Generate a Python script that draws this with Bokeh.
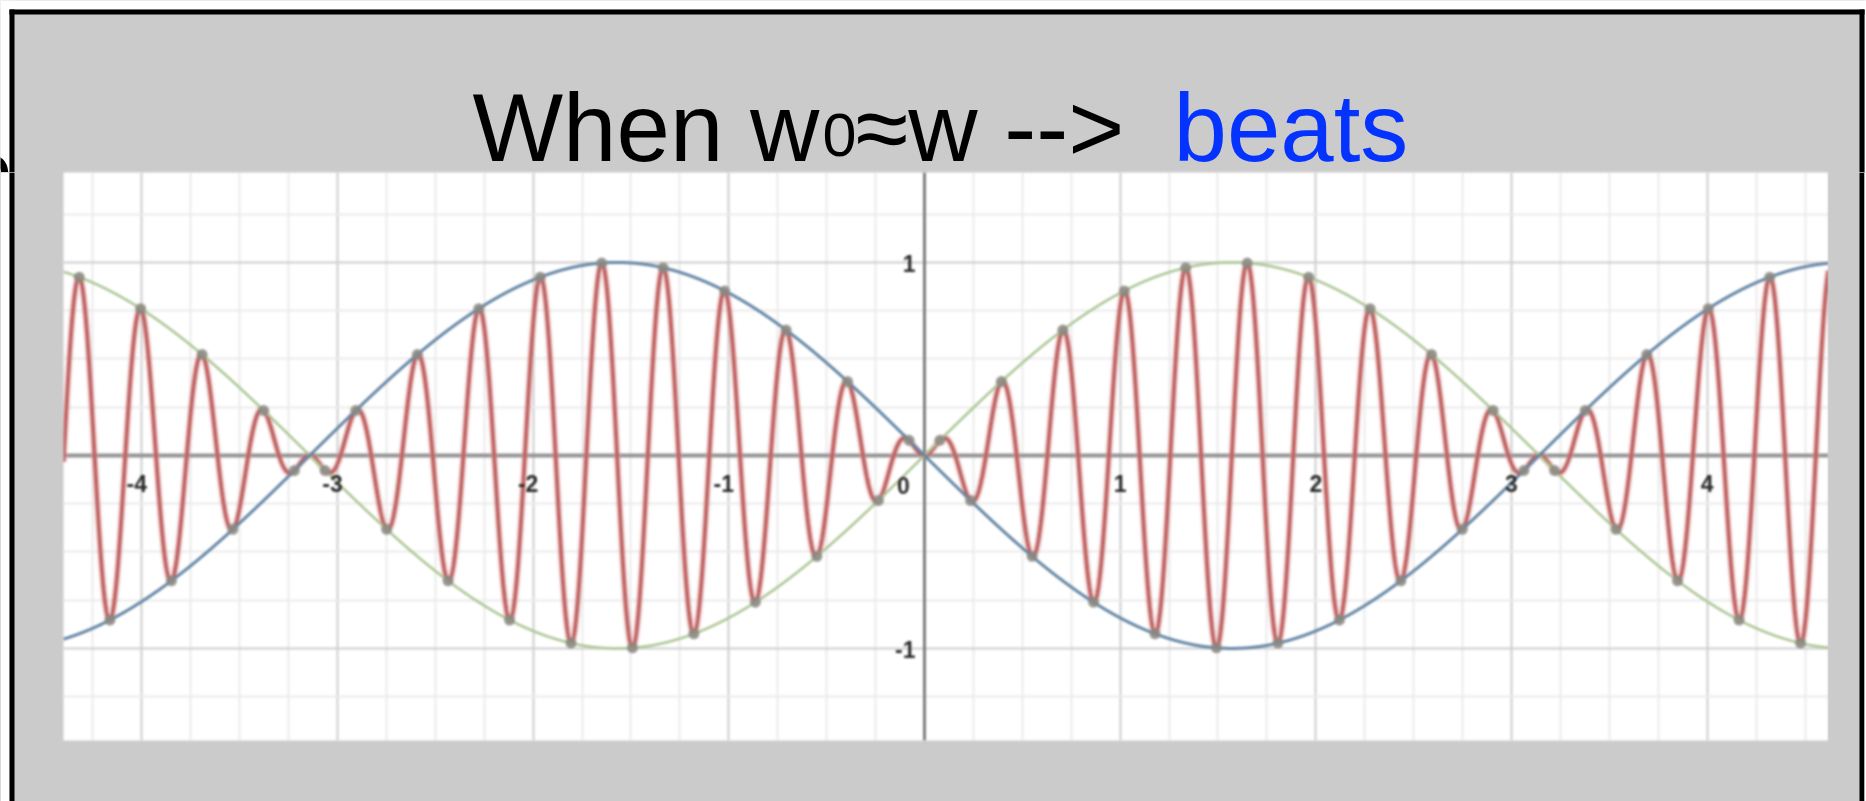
import numpy as np
from bokeh.plotting import figure
from bokeh.layouts import column, row
from bokeh.models import Range1d, Span, Grid, FixedTicker
from bokeh.core.properties import value
from bokeh.embed import file_html
from bokeh.resources import INLINE

# ---- content -------------------------------------------------------------
# Beating: a fast carrier sin(20x) modulated by the slow envelope sin(x)
CARRIER_FREQ = 20
ENVELOPE_FREQ = 1

X_TICKS = [-4, -3, -2, -1, 1, 2, 3, 4]
X_TICK_LABELS = ["-4", "-3", "-2", "-1", "1", "2", "3", "4"]
Y_TICKS = [-1, 1]
Y_TICK_LABELS = ["-1", "1"]
ORIGIN_LABEL = "0"

X_VIEW = (-4.40, 4.62)
Y_VIEW = (-1.477, 1.466)
GRID_STEP = 0.25

# title pieces: (text, left x, baseline y, size, colour)
TITLE_PIECES = [
    ("When w", 472, 127, 96, "black"),
    ("0", 822, 134, 61, "black"),
    ("\u2248w -->", 855, 127, 96, "black"),
    ("beats", 1173, 127, 96, "#0433ff"),
]
EDGE_GLYPH = "b"

# ---- page geometry (pixels) ----------------------------------------------
W, H = 1866, 801
FL, FR, FT, FB = 63, 1828, 172, 740   # white plotting area
RULE_L, RULE_R, RULE_T, RULE_W = 9, 1859, 9, 5

PANEL_GRAY = "#cbcbcb"
RED = "#c06464"
BLUE = "#6486a5"
GREEN = "#abc593"
DOT = "#8a8983"
FONT = "Liberation Sans"
TEXT_FONT = value(FONT)


def pixel_figure(width, height):
    """A bare figure whose data space is its own pixel grid (y down)."""
    f = figure(width=width, height=height,
               x_range=Range1d(0, width), y_range=Range1d(height, 0),
               x_axis_location=None, y_axis_location=None,
               toolbar_location=None, output_backend="svg",
               min_border=0, min_border_left=0, min_border_right=0,
               min_border_top=0, min_border_bottom=0,
               frame_align=False)
    f.background_fill_color = PANEL_GRAY
    f.border_fill_color = PANEL_GRAY
    f.outline_line_color = None
    f.grid.visible = False
    return f


# ---- title band --------------------------------------------------------------
top = pixel_figure(W, FT)
top.quad(left=[0, 0, RULE_R + RULE_W], right=[RULE_L, W, W],
         top=[0, 0, 0], bottom=[FT, RULE_T, FT],
         fill_color="white", line_color=None)
top.quad(left=[RULE_L, RULE_L, RULE_R], right=[RULE_L + RULE_W, RULE_R + RULE_W, RULE_R + RULE_W],
         top=[RULE_T, RULE_T, RULE_T], bottom=[FT, RULE_T + RULE_W, FT],
         fill_color="black", line_color=None)
top.text(x=[-33], y=[171], text=[EDGE_GLYPH], text_font=TEXT_FONT,
         text_font_size="80px", text_color="black",
         text_align="left", text_baseline="alphabetic")
for txt, tx, ty, size, colour in TITLE_PIECES:
    top.text(x=[tx], y=[ty], text=[txt], text_font=TEXT_FONT,
             text_font_size=f"{size}px", text_color=colour,
             text_align="left", text_baseline="alphabetic")

# ---- side strips of the slide frame -----------------------------------------
lower_h = H - FT
left = pixel_figure(FL, lower_h)
left.quad(left=[0], right=[RULE_L], top=[0], bottom=[lower_h], fill_color="white", line_color=None)
left.quad(left=[RULE_L], right=[RULE_L + RULE_W], top=[0], bottom=[lower_h], fill_color="black", line_color=None)

right_w = W - FR
right = pixel_figure(right_w, lower_h)
rr = RULE_R - FR
right.quad(left=[rr], right=[rr + RULE_W], top=[0], bottom=[lower_h], fill_color="black", line_color=None)
right.quad(left=[rr + RULE_W], right=[right_w], top=[0], bottom=[lower_h], fill_color="white", line_color=None)

# ---- the graph ----------------------------------------------------------------
p = figure(
    width=FR - FL, height=lower_h,
    x_range=Range1d(*X_VIEW), y_range=Range1d(*Y_VIEW),
    x_axis_location=None, y_axis_location=None,
    toolbar_location=None, output_backend="svg",
    min_border_left=0, min_border_right=0,
    min_border_top=0, min_border_bottom=H - FB,
    frame_align=False,
    styles={"filter": "blur(1.2px)"},
)
p.background_fill_color = "white"
p.border_fill_color = PANEL_GRAY
p.outline_line_color = None

x_minor = [float(v) for v in np.arange(-4.5, 4.75, GRID_STEP) if abs(v - round(v)) > 1e-9]
y_minor = [float(v) for v in np.arange(-1.5, 1.75, GRID_STEP) if abs(v - round(v)) > 1e-9]

gx = Grid(dimension=0, ticker=FixedTicker(ticks=list(range(-5, 6)), minor_ticks=x_minor))
gy = Grid(dimension=1, ticker=FixedTicker(ticks=[-1, 0, 1], minor_ticks=y_minor))
for g in (gx, gy):
    g.grid_line_color = "#cdcdcd"
    g.grid_line_width = 2
    g.minor_grid_line_color = "#ebebeb"
    g.minor_grid_line_width = 2
    p.add_layout(g)

# axes through the origin
p.add_layout(Span(location=0, dimension="width", line_color="#949494", line_width=4, level="underlay"))
p.add_layout(Span(location=0, dimension="height", line_color="#6a6a6a", line_width=2.5, level="underlay"))

x = np.linspace(X_VIEW[0], X_VIEW[1], 8000)
envelope = np.sin(ENVELOPE_FREQ * x)
signal = envelope * np.sin(CARRIER_FREQ * x)

p.line(x, signal, line_color="#e6a9a9", line_width=8, line_alpha=0.35)
p.line(x, signal, line_color=RED, line_width=4)
p.line(x, envelope, line_color=GREEN, line_width=2.5)
p.line(x, -envelope, line_color=BLUE, line_width=3)

# points where the carrier touches the envelope
n = np.arange(-40, 40)
xt = (2 * n + 1) * np.pi / (2 * CARRIER_FREQ)
xt = xt[(xt > X_VIEW[0]) & (xt < X_VIEW[1])]
yt = np.sin(ENVELOPE_FREQ * xt) * np.sin(CARRIER_FREQ * xt)
p.scatter(xt, yt, size=11, fill_color=DOT, line_color=None, fill_alpha=0.85)

# tick labels beside the axes
label_style = dict(text_font=TEXT_FONT, text_font_size="23px", text_font_style="bold",
                   text_color="#2b2b2b", text_baseline="middle")
p.text(x=X_TICKS, y=[0] * len(X_TICKS), text=X_TICK_LABELS,
       x_offset=[-5 if t < 0 else 0 for t in X_TICKS], y_offset=28,
       text_align="center", **label_style)
p.text(x=[0] * len(Y_TICKS), y=Y_TICKS, text=Y_TICK_LABELS,
       x_offset=-9, y_offset=1, text_align="right", **label_style)
p.text(x=[0], y=[0], text=[ORIGIN_LABEL], x_offset=-21, y_offset=30,
       text_align="center", **label_style)

lower = row(left, p, right, spacing=0, styles={"background-color": PANEL_GRAY})
page = column(top, lower, spacing=0)
open("out.html", "w").write(file_html(page, INLINE))
